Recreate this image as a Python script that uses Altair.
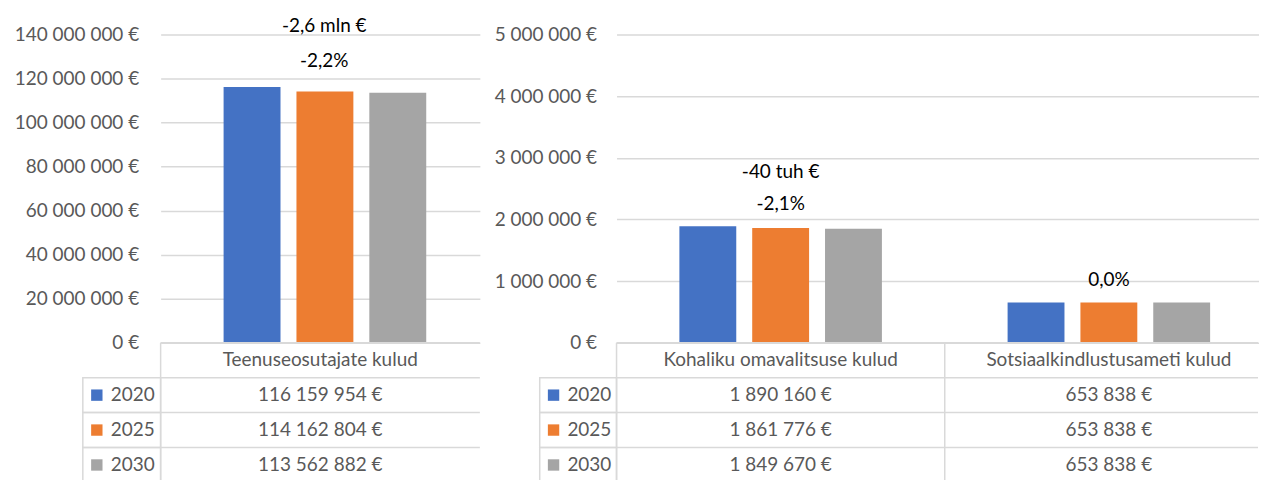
import altair as alt
import pandas as pd

# ---------------- data ----------------
years = ["2020", "2025", "2030"]
year_colors = ["#4472C4", "#ED7D31", "#A5A5A5"]

left_cats = ["Teenuseosutajate kulud"]
left_2020 = [116159954]
left_2025 = [114162804]
left_2030 = [113562882]
left_pct = ["-2,2%"]
left_abs = ["-2,6 mln €"]
left_ticks = [0, 20000000, 40000000, 60000000, 80000000, 100000000, 120000000, 140000000]

right_cats = ["Kohaliku omavalitsuse kulud", "Sotsiaalkindlustusameti kulud"]
right_2020 = [1890160, 653838]
right_2025 = [1861776, 653838]
right_2030 = [1849670, 653838]
right_pct = ["-2,1%", "0,0%"]
right_abs = ["-40 tuh €", ""]
right_ticks = [0, 1000000, 2000000, 3000000, 4000000, 5000000]

row_keys = ["header"] + years

# ---------------- style ----------------
FONT = "Lato"
FS = 19
GRAY_TXT = "#595959"
LINE = "#D9D9D9"
LW = 1.5
PLOT_H = 309
TABLE_H = 140

color_scale = alt.Scale(domain=years, range=year_colors)


def fmt_eur(v):
    return f"{v:,}".replace(",", " ") + " €"


def long_df(cats, v20, v25, v30):
    recs = []
    for i, c in enumerate(cats):
        for y, vals in zip(years, [v20, v25, v30]):
            recs.append({"cat": c, "year": y, "value": vals[i]})
    return pd.DataFrame(recs)


def x_scale(cats, xrange):
    if xrange is None:
        return alt.Scale(domain=cats, paddingInner=0, paddingOuter=0)
    return alt.Scale(domain=cats, paddingInner=0, paddingOuter=0, range=xrange)


def bar_panel(cats, v20, v25, v30, pct, absl, ticks, width, xrange, po, al, dx, dy_pct, dy_abs, lpad):
    df = long_df(cats, v20, v25, v30)
    ann = pd.DataFrame({"cat": cats, "value": v20, "pct": pct, "abs": absl})
    x = alt.X("cat:N", sort=cats, scale=x_scale(cats, xrange), axis=None)
    y = alt.Y("value:Q",
              scale=alt.Scale(domain=[0, ticks[-1]], nice=False, zero=True),
              axis=alt.Axis(values=ticks, title=None, grid=True, gridColor=LINE, gridWidth=LW,
                            domain=False, ticks=False, tickSize=0, labelPadding=lpad,
                            labelFont=FONT, labelFontSize=FS, labelColor=GRAY_TXT,
                            labelExpr="replace(format(datum.value, ',.0f'), regexp(',', 'g'), ' ') + ' €'"))
    bars = alt.Chart(df).mark_bar().encode(
        x=x,
        xOffset=alt.XOffset("year:N", sort=years,
                            scale=alt.Scale(domain=years, paddingInner=0.219,
                                            paddingOuter=po, align=al)),
        y=y,
        color=alt.Color("year:N", scale=color_scale, legend=None),
    )
    t_pct = alt.Chart(ann).mark_text(font=FONT, fontSize=FS, color="#000000",
                                     dx=dx, dy=dy_pct, baseline="middle").encode(
        x=x, y=y, text="pct:N")
    t_abs = alt.Chart(ann).mark_text(font=FONT, fontSize=FS, color="#000000",
                                     dx=dx, dy=dy_abs, baseline="middle").encode(
        x=x, y=y, text="abs:N")
    return alt.layer(bars, t_pct, t_abs).properties(width=width, height=PLOT_H)


def table_panel(cats, v20, v25, v30, width, xrange):
    recs = []
    for i, c in enumerate(cats):
        recs.append({"cat": c, "row": "header", "text": c})
        for y, vals in zip(years, [v20, v25, v30]):
            recs.append({"cat": c, "row": y, "text": fmt_eur(vals[i])})
    tdf = pd.DataFrame(recs)
    xsc = x_scale(cats, xrange)
    ysc = alt.Scale(domain=row_keys, paddingInner=0, paddingOuter=0)
    txt = alt.Chart(tdf).mark_text(font=FONT, fontSize=FS, color=GRAY_TXT).encode(
        x=alt.X("cat:N", scale=xsc, axis=None),
        y=alt.Y("row:N", scale=ysc, axis=None),
        text="text:N")
    hr = alt.Chart(pd.DataFrame({"row": row_keys})).mark_rule(color=LINE, strokeWidth=LW).encode(
        y=alt.Y("row:N", scale=ysc, axis=None, bandPosition=0))
    vr = alt.Chart(pd.DataFrame({"cat": cats})).mark_rule(color=LINE, strokeWidth=LW).encode(
        x=alt.X("cat:N", scale=xsc, axis=None, bandPosition=0))
    return alt.layer(hr, vr, txt).properties(width=width, height=TABLE_H)


def legend_panel(width, po):
    ldf = pd.DataFrame({"lg": ["L"] * len(years), "row": years, "text": years, "year": years})
    xsc = alt.Scale(domain=["L"], paddingInner=0, paddingOuter=po, align=1)
    ysc = alt.Scale(domain=row_keys, paddingInner=0, paddingOuter=0)
    cells = alt.Chart(ldf).mark_rect(fillOpacity=0, stroke=LINE, strokeWidth=LW).encode(
        x=alt.X("lg:N", scale=xsc, axis=None),
        y=alt.Y("row:N", scale=ysc, axis=None))
    sq = alt.Chart(ldf).mark_square(size=130, opacity=1, filled=True).encode(
        x=alt.X("lg:N", scale=xsc, axis=None, bandPosition=0.18),
        y=alt.Y("row:N", scale=ysc, axis=None),
        color=alt.Color("year:N", scale=color_scale, legend=None))
    tx = alt.Chart(ldf).mark_text(font=FONT, fontSize=FS, color=GRAY_TXT, align="left").encode(
        x=alt.X("lg:N", scale=xsc, axis=None, bandPosition=0.36),
        y=alt.Y("row:N", scale=ysc, axis=None),
        text="text:N")
    return alt.layer(cells, sq, tx).properties(width=width, height=TABLE_H)


def empty_cell(width):
    return alt.Chart(pd.DataFrame({"e": [0]})).mark_point(opacity=0).encode(
        x=alt.value(0), y=alt.value(0)).properties(width=width, height=PLOT_H)


RIGHT_W = 643
RIGHT_RANGE = [0, 658]

barsL = bar_panel(left_cats, left_2020, left_2025, left_2030, left_pct, left_abs,
                  left_ticks, 320, None, 0.80, 0.54, 4, -26, -61, 22)
barsR = bar_panel(right_cats, right_2020, right_2025, right_2030, right_pct, right_abs,
                  right_ticks, RIGHT_W, RIGHT_RANGE, 0.863, 0.5, 0, -22, -54, 20)
tableL = table_panel(left_cats, left_2020, left_2025, left_2030, 320, None)
tableR = table_panel(right_cats, right_2020, right_2025, right_2030, RIGHT_W, RIGHT_RANGE)
legendL = legend_panel(78, 0.0)
legendR = legend_panel(137, 0.3896)

chart = alt.concat(
    empty_cell(78), barsL, empty_cell(137), barsR,
    legendL, tableL, legendR, tableR,
    columns=4, spacing=0, bounds="flush", align="each",
).resolve_scale(
    xOffset="independent"
).properties(
    padding={"left": 6, "top": 8, "right": 0, "bottom": 0},
    background="white",
).configure_view(stroke=None)

chart.save("out.html", embed_options={"renderer": "svg", "actions": False})
